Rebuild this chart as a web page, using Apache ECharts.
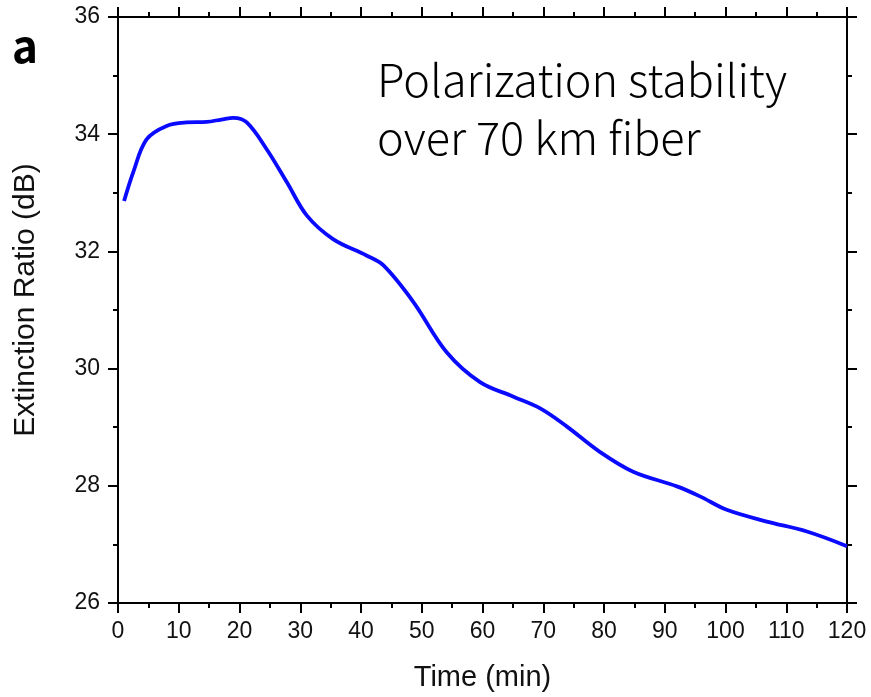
<!DOCTYPE html>
<html>
<head>
<meta charset="utf-8">
<script src="https://cdn.jsdelivr.net/npm/echarts@6/dist/echarts.min.js"></script>
<style>html,body{margin:0;padding:0;background:#fff;}#c{width:871px;height:697px;}</style>
</head>
<body>
<div id="c"></div>
<script>
// Data
var times = [1, 2.5, 4.7, 8, 11.3, 14.6, 17, 19, 21.2, 24.5, 27.8, 31.1, 35.4, 40.9, 43.7, 48.6, 54.1, 59.6, 65.1, 69.5, 73.9, 79.3, 84.8, 92, 95.8, 100.2, 106.8, 113.4, 120];
var ratio = [32.86, 33.35, 33.91, 34.14, 34.20, 34.21, 34.25, 34.28, 34.20, 33.74, 33.18, 32.61, 32.21, 31.93, 31.76, 31.14, 30.28, 29.77, 29.52, 29.32, 29.01, 28.58, 28.24, 27.99, 27.82, 27.59, 27.39, 27.22, 26.97];
var xTitle = 'Time (min)';
var yTitle = 'Extinction Ratio (dB)';
var panelLabel = 'a';
var annotation = 'Polarization stability\nover 70 km fiber';

var points = times.map(function (t, i) { return [t, ratio[i]]; });
var font = '"Liberation Sans", Arial, Helvetica, sans-serif';
var lineStyle = { color: '#000', width: 2 };
function axisCommon(extra) {
  var base = {
    type: 'value',
    axisLine: { show: true, onZero: false, lineStyle: lineStyle },
    axisTick: { show: true, inside: false, length: 10, lineStyle: lineStyle },
    minorTick: { show: true, splitNumber: 2, length: 5, lineStyle: lineStyle },
    splitLine: { show: false },
    minorSplitLine: { show: false }
  };
  for (var k in extra) base[k] = extra[k];
  return base;
}

var chart = echarts.init(document.getElementById('c'), null, { renderer: 'canvas' });
chart.setOption({
  animation: false,
  backgroundColor: '#fff',
  grid: { left: 118, right: 24, top: 17, bottom: 92, containLabel: false },
  xAxis: [
    axisCommon({
      position: 'bottom', min: 0, max: 120, interval: 10,
      axisLabel: { show: true, fontSize: 23, color: '#111', fontFamily: font, margin: 17 },
      name: xTitle, nameLocation: 'middle', nameGap: 60,
      nameTextStyle: { fontSize: 29, color: '#111', fontFamily: font }
    }),
    axisCommon({ position: 'top', min: 0, max: 120, interval: 10, axisLabel: { show: false } })
  ],
  yAxis: [
    axisCommon({
      position: 'left', min: 26, max: 36, interval: 2,
      axisLabel: { show: true, fontSize: 23, color: '#111', fontFamily: font, margin: 18 },
      name: yTitle, nameLocation: 'middle', nameGap: 77,
      nameTextStyle: { fontSize: 30, color: '#111', fontFamily: font, padding: [0, 0, 0, 20] }
    }),
    axisCommon({ position: 'right', min: 26, max: 36, interval: 2, axisLabel: { show: false } })
  ],
  series: [{
    type: 'line',
    data: points,
    xAxisIndex: 0, yAxisIndex: 0,
    showSymbol: false,
    smooth: 0.35,
    lineStyle: { color: '#0a0aff', width: 3.8 },
    clip: false
  }],
  graphic: [
    { type: 'text', left: 12, top: 24, style: { text: panelLabel, font: 'bold 44px "Noto Sans CJK SC", "Noto Sans", sans-serif', fill: '#000' } },
    { type: 'text', left: 377, top: 51, style: { text: annotation, font: '300 45px "Noto Sans CJK SC", "Noto Sans", sans-serif', lineHeight: 58, fill: '#000' } }
  ]
});
</script>
</body>
</html>
